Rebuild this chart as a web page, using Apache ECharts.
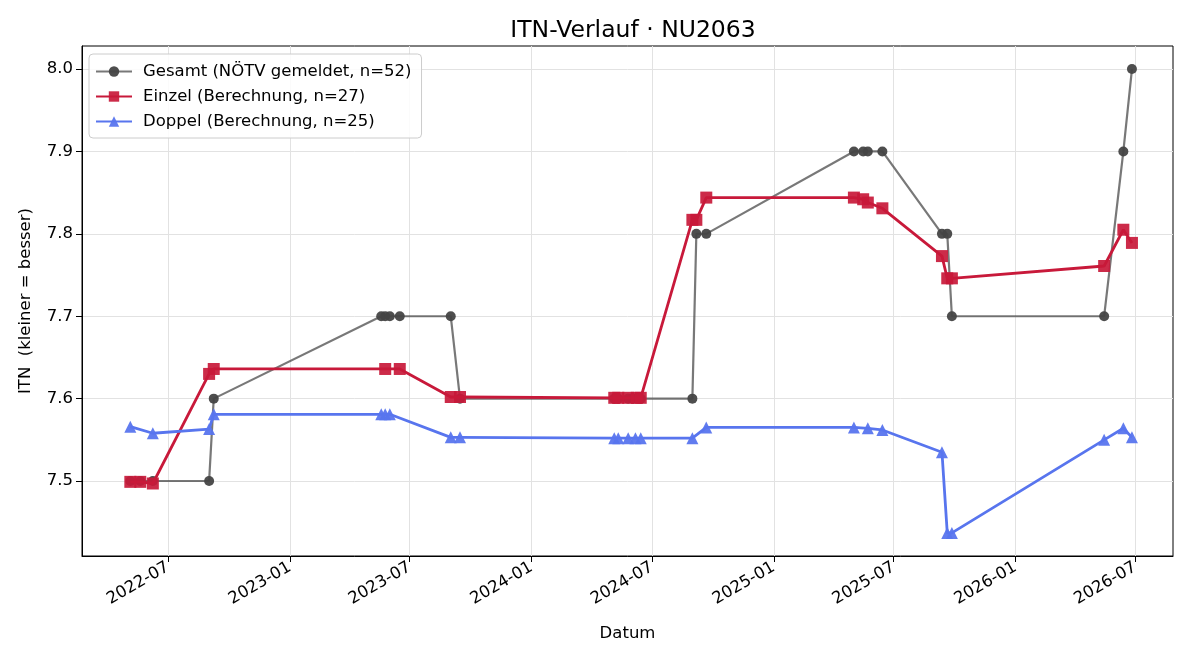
<!DOCTYPE html>
<html>
<head>
<meta charset="utf-8">
<script src="https://cdn.jsdelivr.net/npm/echarts@6/dist/echarts.min.js"></script>
<style>
  html, body { margin: 0; padding: 0; background: #fff; }
  #chart { width: 1200px; height: 660px; }
</style>
</head>
<body>
<div id="chart"></div>
<script>
// Gesamt (NÖTV gemeldet)
var gesamtDates = ['2022-05-05','2022-05-20','2022-06-08','2022-09-01','2022-09-08',
  '2023-05-19','2023-05-25','2023-06-01','2023-06-16','2023-09-01','2023-09-15',
  '2024-05-05','2024-05-11','2024-05-26','2024-06-02','2024-06-10','2024-06-14','2024-08-31',
  '2024-09-06','2024-09-21','2025-05-02','2025-05-16','2025-05-23','2025-06-14',
  '2025-09-12','2025-09-20','2025-09-27','2026-05-15','2026-06-13','2026-06-26'];
var gesamtValues = [7.5, 7.5, 7.5, 7.5, 7.6,
  7.7, 7.7, 7.7, 7.7, 7.7, 7.6,
  7.6, 7.6, 7.6, 7.6, 7.6, 7.6, 7.6,
  7.8, 7.8, 7.9, 7.9, 7.9, 7.9,
  7.8, 7.8, 7.7, 7.7, 7.9, 8.0];

// Einzel (Berechnung)
var einzelDates = ['2022-05-05','2022-05-20','2022-06-08','2022-09-01','2022-09-08',
  '2023-05-25','2023-06-16','2023-09-01','2023-09-15',
  '2024-05-05','2024-05-11','2024-05-26','2024-06-08','2024-06-14',
  '2024-08-31','2024-09-06','2024-09-21',
  '2025-05-02','2025-05-16','2025-05-23','2025-06-14',
  '2025-09-12','2025-09-20','2025-09-27',
  '2026-05-15','2026-06-13','2026-06-26'];
var einzelValues = [7.499, 7.499, 7.497, 7.630, 7.636,
  7.636, 7.636, 7.602, 7.602,
  7.601, 7.601, 7.601, 7.601, 7.601,
  7.817, 7.817, 7.844,
  7.844, 7.842, 7.838, 7.831,
  7.773, 7.746, 7.746,
  7.761, 7.805, 7.789];

// Doppel (Berechnung)
var doppelDates = ['2022-05-05','2022-06-08','2022-09-01','2022-09-08',
  '2023-05-19','2023-05-25','2023-06-01','2023-09-01','2023-09-15',
  '2024-05-05','2024-05-11','2024-05-26','2024-06-06','2024-06-14',
  '2024-08-31','2024-09-21',
  '2025-05-02','2025-05-23','2025-06-14',
  '2025-09-12','2025-09-20','2025-09-27',
  '2026-05-15','2026-06-13','2026-06-26'];
var doppelValues = [7.566, 7.558, 7.563, 7.581,
  7.581, 7.581, 7.581, 7.553, 7.553,
  7.552, 7.552, 7.552, 7.552, 7.552,
  7.552, 7.565,
  7.565, 7.564, 7.562,
  7.535, 7.437, 7.437,
  7.550, 7.564, 7.553];

var xTickDates = ['2022-07-01','2023-01-01','2023-07-01','2024-01-01','2024-07-01',
  '2025-01-01','2025-07-01','2026-01-01','2026-07-01'];
var yTicks = [7.5, 7.6, 7.7, 7.8, 7.9, 8.0];

function ts(s) {
  var p = s.split('-');
  return Date.UTC(+p[0], +p[1] - 1, +p[2]);
}
function pairs(dates, vals) {
  return dates.map(function (d, i) { return [ts(d), vals[i]]; });
}

var font = 'DejaVu Sans';
var fs = 16.5;
var myChart = echarts.init(document.getElementById('chart'));

myChart.setOption({
  animation: false,
  title: {
    text: 'ITN-Verlauf · NU2063',
    left: 628,
    textAlign: 'center',
    top: 14,
    textStyle: { fontFamily: font, fontSize: 23.5, fontWeight: 'normal', color: '#000' }
  },
  legend: {
    orient: 'vertical',
    left: 89,
    top: 54,
    padding: [9, 10, 8, 6],
    itemGap: 8,
    itemWidth: 36,
    itemHeight: 13,
    backgroundColor: 'rgba(255,255,255,0.85)',
    borderColor: '#cccccc',
    borderWidth: 1,
    borderRadius: 4,
    textStyle: { fontFamily: font, fontSize: fs, color: '#000', padding: [0, 0, 0, 6] },
    data: ['Gesamt (NÖTV gemeldet, n=52)', 'Einzel (Berechnung, n=27)', 'Doppel (Berechnung, n=25)']
  },
  grid: {
    left: 82, right: 27, top: 46, bottom: 104,
    show: true, borderColor: '#000', borderWidth: 1, backgroundColor: 'transparent'
  },
  xAxis: {
    type: 'value',
    min: ts('2022-02-21'),
    max: ts('2026-08-27'),
    name: 'Datum',
    nameLocation: 'middle',
    nameGap: 69,
    nameTextStyle: { fontFamily: font, fontSize: fs, color: '#000' },
    axisLine: { show: true, onZero: false, lineStyle: { color: '#000', width: 1 } },
    axisTick: { show: true, length: 6, lineStyle: { color: '#000' },
      customValues: xTickDates.map(ts) },
    axisLabel: {
      customValues: xTickDates.map(ts),
      rotate: 30,
      fontFamily: font, fontSize: fs, color: '#000', margin: 10,
      formatter: function (v) {
        var d = new Date(v);
        var m = d.getUTCMonth() + 1;
        return d.getUTCFullYear() + '-' + (m < 10 ? '0' + m : m);
      }
    },
    splitLine: { show: true, lineStyle: { color: '#e2e2e2', width: 1 } }
  },
  yAxis: {
    type: 'value',
    min: 7.409,
    max: 8.028,
    name: 'ITN  (kleiner = besser)',
    nameLocation: 'middle',
    nameGap: 48,
    nameTextStyle: { fontFamily: font, fontSize: fs, color: '#000' },
    axisLine: { show: true, lineStyle: { color: '#000', width: 1 } },
    axisTick: { show: true, length: 6, lineStyle: { color: '#000' }, customValues: yTicks },
    axisLabel: {
      customValues: yTicks,
      fontFamily: font, fontSize: fs, color: '#000', margin: 9,
      formatter: function (v) { return v.toFixed(1); }
    },
    splitLine: { show: true, lineStyle: { color: '#e2e2e2', width: 1 } }
  },
  series: [{
    name: 'Gesamt (NÖTV gemeldet, n=52)',
    type: 'line',
    data: pairs(gesamtDates, gesamtValues),
    symbol: 'circle',
    symbolSize: 10,
    lineStyle: { color: 'rgba(68,68,68,0.72)', width: 2.2 },
    itemStyle: { color: '#444', opacity: 0.95 },
    z: 2
  }, {
    name: 'Einzel (Berechnung, n=27)',
    type: 'line',
    data: pairs(einzelDates, einzelValues),
    symbol: 'rect',
    symbolSize: 12,
    lineStyle: { color: '#c8193a', width: 2.8 },
    itemStyle: { color: '#c8193a', opacity: 0.92 },
    z: 3
  }, {
    name: 'Doppel (Berechnung, n=25)',
    type: 'line',
    data: pairs(doppelDates, doppelValues),
    symbol: 'triangle',
    symbolSize: 12,
    lineStyle: { color: '#5875ee', width: 2.8 },
    itemStyle: { color: '#5875ee', opacity: 0.95 },
    z: 4
  }]
});
</script>
</body>
</html>
